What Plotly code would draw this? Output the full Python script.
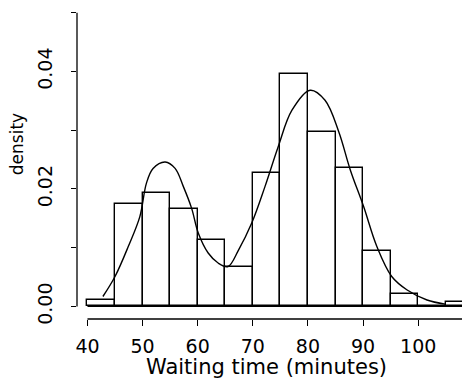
import plotly.graph_objects as go

# Histogram of waiting times (density scale), 5-minute bins
bin_edges = [40, 45, 50, 55, 60, 65, 70, 75, 80, 85, 90, 95, 100, 105, 110]
bin_density = [0.0011, 0.0175, 0.0194, 0.0166, 0.0113, 0.0067, 0.0228,
               0.0395, 0.0297, 0.0236, 0.0095, 0.0022, 0.0, 0.0008]

# Smooth density estimate
curve_x = [42.8, 45.0, 47.4, 49.5, 50.7, 51.9, 54.1, 55.9, 57.4, 58.9, 60.1,
           61.9, 63.7, 65.5, 67.4, 69.8, 72.2, 74.6, 77.1, 80.4, 83.1, 85.6,
           87.7, 90.1, 92.5, 95.2, 98.0, 101.6, 104.9]
curve_y = [0.0017, 0.0051, 0.0102, 0.0153, 0.0210, 0.0235, 0.0246, 0.0235,
           0.0204, 0.0167, 0.0125, 0.0091, 0.0074, 0.0068, 0.0096, 0.0142,
           0.0204, 0.0272, 0.0334, 0.0368, 0.0351, 0.0297, 0.0232, 0.0170,
           0.0102, 0.0051, 0.0028, 0.0011, 0.0004]

x_ticks = [40, 50, 60, 70, 80, 90, 100]
y_ticks = [0.0, 0.01, 0.02, 0.03, 0.04, 0.05]
y_ticktext = ["0.00", "", "0.02", "", "0.04", ""]

x_title = "Waiting time (minutes)"
y_title = "density"

centers = [(a + b) / 2 for a, b in zip(bin_edges[:-1], bin_edges[1:])]
widths = [b - a for a, b in zip(bin_edges[:-1], bin_edges[1:])]

FONT = "DejaVu Sans"
fig = go.Figure()

# baseline under the bars (covers empty bins)
fig.add_trace(go.Scatter(
    x=[bin_edges[0], bin_edges[-1]], y=[0, 0], mode="lines",
    line=dict(color="black", width=1.2), hoverinfo="skip", showlegend=False))

fig.add_trace(go.Bar(
    x=centers, y=bin_density, width=widths,
    marker=dict(color="white", line=dict(color="black", width=1.4)),
    showlegend=False))

fig.add_trace(go.Scatter(
    x=curve_x, y=curve_y, mode="lines",
    line=dict(color="black", width=1.4, shape="spline", smoothing=1.0),
    showlegend=False))

# R-style axis lines spanning only the ticks
fig.add_shape(type="line", xref="paper", yref="y", x0=0, x1=0,
              y0=y_ticks[0], y1=y_ticks[-1], line=dict(color="black", width=1.3))
fig.add_shape(type="line", xref="x", yref="paper", x0=x_ticks[0], x1=bin_edges[-1],
              y0=0, y1=0, line=dict(color="black", width=1.3))

fig.add_annotation(text=y_title, xref="paper", yref="paper", x=-0.152, y=0.563,
                   textangle=-90, showarrow=False, xanchor="center", yanchor="middle",
                   font=dict(family=FONT, size=17, color="#000000"))
fig.add_annotation(text=x_title, xref="paper", yref="paper", x=0.482, y=-0.154,
                   showarrow=False, xanchor="center", yanchor="middle",
                   font=dict(family=FONT, size=21, color="#000000"))

fig.update_layout(
    width=470, height=390,
    margin=dict(l=69, r=8, t=0, b=79, autoexpand=False),
    paper_bgcolor="white", plot_bgcolor="white",
    bargap=0,
    font=dict(family=FONT, color="black"),
    xaxis=dict(range=[38.1, 109.4], showgrid=False, zeroline=False, showline=False,
               automargin=False,
               tickmode="array", tickvals=x_ticks, ticks="outside", ticklen=6,
               tickwidth=1.2, tickcolor="black", ticklabelstandoff=4,
               tickfont=dict(family=FONT, size=19, color="black")),
    yaxis=dict(range=[-0.00213, 0.0508], showgrid=False, zeroline=False, showline=False,
               automargin=False,
               tickmode="array", tickvals=y_ticks, ticktext=y_ticktext,
               ticks="outside", ticklen=5, tickwidth=1.2, tickcolor="black",
               tickangle=-90, ticklabelstandoff=11,
               tickfont=dict(family=FONT, size=19, color="black")),
)

fig.write_html("out.html")
